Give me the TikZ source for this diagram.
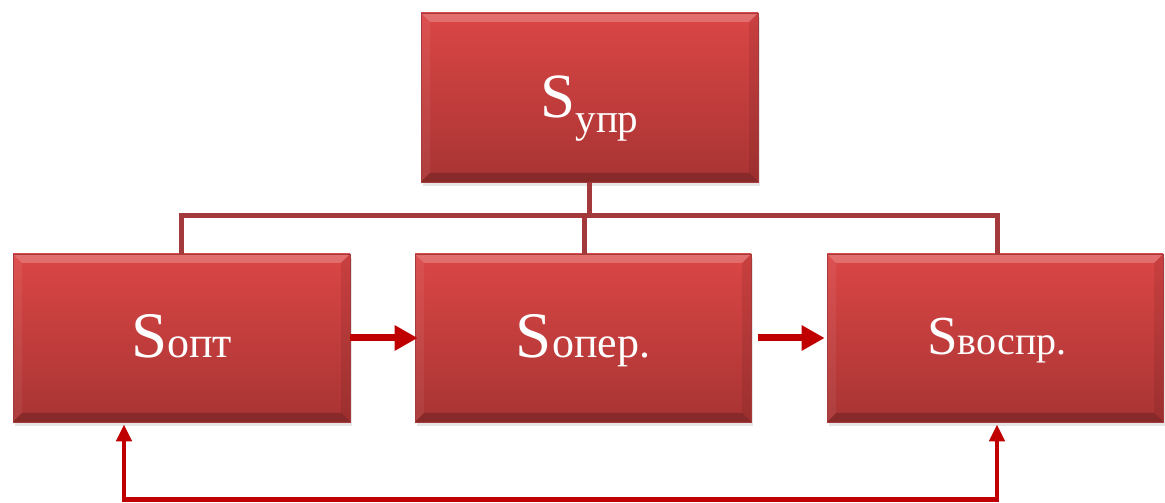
\documentclass[tikz,border=0pt]{standalone}
\usepackage{fontspec}
\setmainfont{Liberation Serif}
\newfontfamily\tnrfont{Liberation Serif}
\usetikzlibrary{arrows.meta,calc,shadows}
\definecolor{boxtop}{HTML}{DB4646}
\definecolor{boxbot}{HTML}{A83433}
\definecolor{boxline}{HTML}{A63A3A}
\definecolor{conn}{HTML}{A4393B}
\definecolor{arr}{HTML}{C00000}
\tikzset{
  redbox/.style={rectangle, minimum width=#1, minimum height=168pt, inner sep=0pt,
    top color=boxtop, bottom color=boxbot, draw=boxline, line width=0.6pt,
    drop shadow={opacity=0.2, shadow xshift=2pt, shadow yshift=-4pt},
    path picture={
      \fill[white,opacity=0.22] (path picture bounding box.north west) -- (path picture bounding box.north east)
        -- ($(path picture bounding box.north east)+(-9pt,-9pt)$) -- ($(path picture bounding box.north west)+(9pt,-9pt)$) -- cycle;
      \fill[white,opacity=0.06] (path picture bounding box.north west) -- ($(path picture bounding box.north west)+(9pt,-9pt)$)
        -- ($(path picture bounding box.south west)+(9pt,9pt)$) -- (path picture bounding box.south west) -- cycle;
      \fill[black,opacity=0.08] (path picture bounding box.north east) -- ($(path picture bounding box.north east)+(-9pt,-9pt)$)
        -- ($(path picture bounding box.south east)+(-9pt,9pt)$) -- (path picture bounding box.south east) -- cycle;
      \fill[black,opacity=0.2] (path picture bounding box.south west) -- ($(path picture bounding box.south west)+(9pt,9pt)$)
        -- ($(path picture bounding box.south east)+(-9pt,9pt)$) -- (path picture bounding box.south east) -- cycle;
    }},
  lbl/.style={text=white, anchor=base, inner sep=0pt, font=\tnrfont},
  conline/.style={draw=conn, line width=5pt},
  flowarrow/.style={draw=arr, line width=7pt, -{Triangle[length=23pt,width=24pt]}},
  fbarrow/.style={draw=arr, line width=4.5pt, {Triangle[length=17pt,width=15pt]}-{Triangle[length=17pt,width=15pt]}}
}
\begin{document}
\begin{tikzpicture}[x=1pt,y=1pt]
\fill[white] (0,0) rectangle (1165,503);
\useasboundingbox (0,0) rectangle (1165,503);

\coordinate (bus) at (589.5,287);
\node[redbox=337pt, minimum height=169pt] (top) at (589.5,405.5) {};
\node[redbox=337pt] (opt) at (181.5,165) {};
\node[redbox=336pt] (oper) at (583,165) {};
\node[redbox=336pt] (vospr) at (995,165) {};

\draw[conline] (top.south) -- (bus);
\draw[conline, line cap=rect] ([xshift=-0.5pt]opt.north |- bus) -- ([xshift=2pt]vospr.north |- bus);
\draw[conline] ([xshift=-0.5pt]opt.north |- bus) -- ([xshift=-0.5pt]opt.north);
\draw[conline] ([xshift=1pt]oper.north |- bus) -- ([xshift=1pt]oper.north);
\draw[conline] ([xshift=2pt]vospr.north |- bus) -- ([xshift=2pt]vospr.north);

\node[lbl] (ltop) at ([yshift=-20.5pt]top.center) {\fontsize{63}{63}\selectfont S\raisebox{-15pt}{\fontsize{41}{41}\selectfont упр}};
\node[lbl] (lopt) at ([yshift=-20pt]opt.center) {\fontsize{65}{65}\selectfont S{\fontsize{44}{44}\selectfont опт}};
\node[lbl] (loper) at ([yshift=-20pt]oper.center) {\fontsize{65}{65}\selectfont S{\fontsize{44}{44}\selectfont опер.}};
\node[lbl] (lvospr) at ([xshift=2pt,yshift=-17pt]vospr.center) {\fontsize{55}{55}\selectfont S{\fontsize{40}{40}\selectfont воспр.}};

\draw[flowarrow] (opt.east) -- ([xshift=3pt]oper.west);
\draw[flowarrow] ([xshift=7pt]oper.east) -- ([xshift=-2pt]vospr.west);

\coordinate (fbl) at ([xshift=-57.5pt,yshift=-2pt]opt.south);
\coordinate (fbr) at ([xshift=2pt,yshift=-2pt]vospr.south);
\draw[fbarrow] (fbl) -- ++(0,-75) -| (fbr);
\end{tikzpicture}
\end{document}
